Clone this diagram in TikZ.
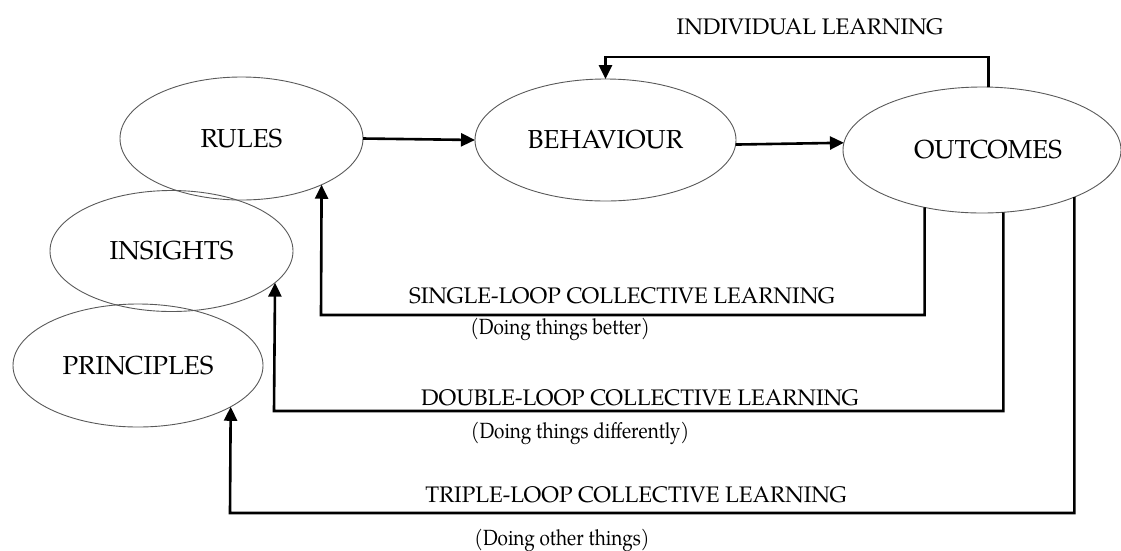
\documentclass[tikz,border=0pt]{standalone}
\usepackage{fontspec}
\usepackage{graphicx}
\setmainfont{texgyrepagella}[Extension=.otf, UprightFont=*-regular, BoldFont=*-bold]
\usetikzlibrary{arrows.meta,shapes.geometric}
\newcommand{\narrow}[1]{\scalebox{0.86}[1]{#1}}
\tikzset{
  oval/.style={ellipse, draw=black!65, line width=0.9pt, inner sep=0pt, outer sep=0pt,
               font=\fontsize{26}{30}\selectfont},
  flow/.style={line width=2.6pt, -{Triangle[length=14pt,width=13pt]}},
  caption/.style={inner sep=0pt, font=\fontsize{22.5}{26}\selectfont},
  note/.style={inner sep=0pt, font=\fontsize{22}{26}\selectfont}
}
\begin{document}
\begin{tikzpicture}[x=1pt,y=-1pt]
\useasboundingbox (0,0) rectangle (1121,550);

% the five stages
\node[oval, minimum width=243pt, minimum height=123pt] (rules)      at (241.5,138.5) {RULES};
\node[oval, minimum width=243pt, minimum height=121pt] (insights)   at (171.5,251)   {INSIGHTS};
\node[oval, minimum width=250pt, minimum height=123pt] (principles) at (138,365.5)   {PRINCIPLES};
\node[oval, minimum width=261pt, minimum height=122pt] (beh)        at (605.5,140)   {BEHAVIOUR};
\node[oval, minimum width=278pt, minimum height=126pt] (out)        at (982,150)     {\hspace*{12pt}OUTCOMES};

% bend points of the feedback loops
\coordinate (ilc) at (605.5,57);
\coordinate (s1)  at (321,315);
\coordinate (d1)  at (274,411);
\coordinate (t1)  at (230,513);

% forward chain
\draw[flow] (rules.east) -- (beh.west);
\draw[flow] (beh.-2.2) -- (out.177.9);

% feedback loops
\draw[flow] (out.84.6) |- (ilc) -- (beh.north);
\draw[flow] (out.225.3) |- (s1) -- (rules.-30.3);
\draw[flow] (out.-71.4) |- (d1) -- (insights.-17.6);
\draw[flow] (out.-27.6) |- (t1) -- (principles.-24.3);

% loop labels
\node[caption] (lind) at (810,27)  {INDIVIDUAL LEARNING};
\node[caption] (lsgl) at (622,296) {SINGLE-LOOP COLLECTIVE LEARNING};
\node[note]    (nsgl) at (560,329) {\narrow{(Doing things better)}};
\node[caption] (ldbl) at (640,398) {DOUBLE-LOOP COLLECTIVE LEARNING};
\node[note]    (ndbl) at (580,433) {\narrow{(Doing things differently)}};
\node[caption] (ltrp) at (636,495) {TRIPLE-LOOP COLLECTIVE LEARNING};
\node[note]    (ntrp) at (562,540) {\narrow{(Doing other things)}};
\end{tikzpicture}
\end{document}
